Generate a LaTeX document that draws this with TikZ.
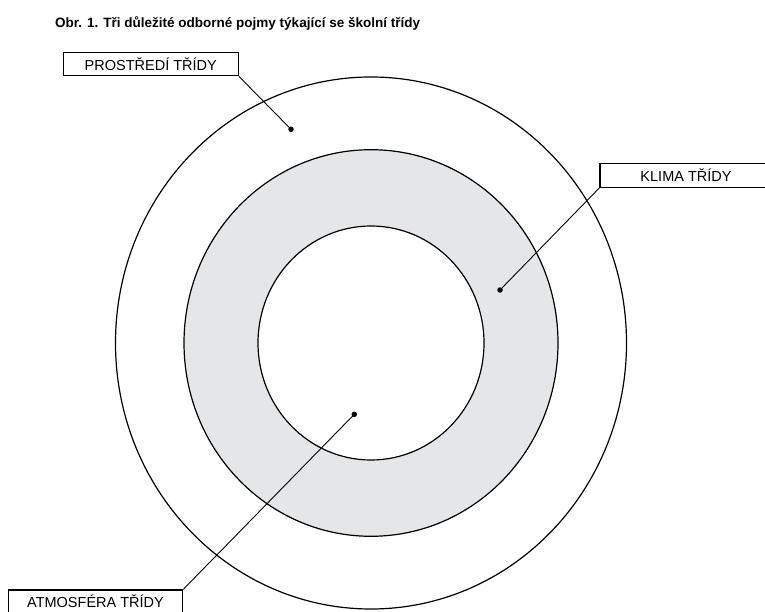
\documentclass[tikz,border=0pt]{standalone}
\usepackage{fontspec}
\setmainfont{Liberation Sans}
\definecolor{ringgray}{RGB}{229,230,232}
\begin{document}
\begin{tikzpicture}[x=1pt,y=-1pt,
  ring/.style={draw=black,line width=1.2pt},
  labelbox/.style={draw=black,line width=1.1pt,fill=white,inner sep=0pt,
    minimum height=23.5pt,font=\fontsize{14.5}{16}\selectfont},
  dotmark/.style={circle,fill=black,inner sep=0pt,minimum size=5.5pt},
  leader/.style={draw=black,line width=0.9pt}]
\useasboundingbox (0,0) rectangle (765,612);
\clip (0,0) rectangle (765,612);
% title
\node[anchor=west,inner sep=0pt,font=\fontsize{13.5}{15}\selectfont\bfseries] (title) at (55,23)
  {Obr. 1. Tři důležité odborné pojmy týkající se školní třídy};
% rings
\fill[ringgray] (371,343) ellipse [x radius=187pt, y radius=193.3pt];
\fill[white] (371,343) ellipse [x radius=113pt, y radius=117pt];
\draw[ring] (371,343) ellipse [x radius=255.5pt, y radius=266pt];
\draw[ring] (371,343) ellipse [x radius=187pt, y radius=193.3pt];
\draw[ring] (371,343) ellipse [x radius=113pt, y radius=117pt];
% dots
\node[dotmark] (d1) at (291,129.3) {};
\node[dotmark] (d2) at (500,290) {};
\node[dotmark] (d3) at (354.3,414.3) {};
% label boxes
\node[labelbox,minimum width=175pt] (p) at (150.8,64) {PROSTŘEDÍ TŘÍDY};
\node[labelbox,minimum width=172pt] (k) at (686,175.5) {KLIMA TŘÍDY};
\node[labelbox,minimum width=174.4pt] (a) at (95.5,601.7) {ATMOSFÉRA TŘÍDY};
% leaders
\draw[leader] (p.south east) -- (d1.center);
\draw[leader] (k.south west) -- (d2.center);
\draw[leader] (a.north east) -- (d3.center);
\end{tikzpicture}
\end{document}
